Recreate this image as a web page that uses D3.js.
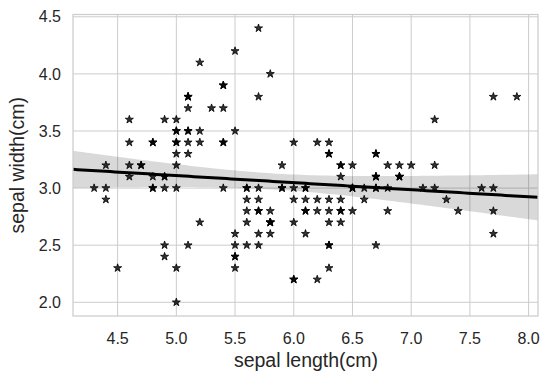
<!DOCTYPE html>
<html><head><meta charset="utf-8">
<script src="https://cdn.jsdelivr.net/npm/d3@7"></script>
<style>body{margin:0;background:#fff}svg{display:block}text{font-family:"Liberation Sans",Arial,sans-serif;fill:#262626}</style>
</head><body>
<svg id="c" width="551" height="382"></svg>
<script>
const sepalLength = [5.1,4.9,4.7,4.6,5.0,5.4,4.6,5.0,4.4,4.9,5.4,4.8,4.8,4.3,5.8,5.7,5.4,5.1,5.7,5.1,5.4,5.1,4.6,5.1,4.8,5.0,5.0,5.2,5.2,4.7,4.8,5.4,5.2,5.5,4.9,5.0,5.5,4.9,4.4,5.1,5.0,4.5,4.4,5.0,5.1,4.8,5.1,4.6,5.3,5.0,
7.0,6.4,6.9,5.5,6.5,5.7,6.3,4.9,6.6,5.2,5.0,5.9,6.0,6.1,5.6,6.7,5.6,5.8,6.2,5.6,5.9,6.1,6.3,6.1,6.4,6.6,6.8,6.7,6.0,5.7,5.5,5.5,5.8,6.0,5.4,6.0,6.7,6.3,5.6,5.5,5.5,6.1,5.8,5.0,5.6,5.7,5.7,6.2,5.1,5.7,
6.3,5.8,7.1,6.3,6.5,7.6,4.9,7.3,6.7,7.2,6.5,6.4,6.8,5.7,5.8,6.4,6.5,7.7,7.7,6.0,6.9,5.6,7.7,6.3,6.7,7.2,6.2,6.1,6.4,7.2,7.4,7.9,6.4,6.3,6.1,7.7,6.3,6.4,6.0,6.9,6.7,6.9,5.8,6.8,6.7,6.7,6.3,6.5,6.2,5.9];
const sepalWidth = [3.5,3.0,3.2,3.1,3.6,3.9,3.4,3.4,2.9,3.1,3.7,3.4,3.0,3.0,4.0,4.4,3.9,3.5,3.8,3.8,3.4,3.7,3.6,3.3,3.4,3.0,3.4,3.5,3.4,3.2,3.1,3.4,4.1,4.2,3.1,3.2,3.5,3.6,3.0,3.4,3.5,2.3,3.2,3.5,3.8,3.0,3.8,3.2,3.7,3.3,
3.2,3.2,3.1,2.3,2.8,2.8,3.3,2.4,2.9,2.7,2.0,3.0,2.2,2.9,2.9,3.1,3.0,2.7,2.2,2.5,3.2,2.8,2.5,2.8,2.9,3.0,2.8,3.0,2.9,2.6,2.4,2.4,2.7,2.7,3.0,3.4,3.1,2.3,3.0,2.5,2.6,3.0,2.6,2.3,2.7,3.0,2.9,2.9,2.5,2.8,
3.3,2.7,3.0,2.9,3.0,3.0,2.5,2.9,2.5,3.6,3.2,2.7,3.0,2.5,2.8,3.2,3.0,3.8,2.6,2.2,3.2,2.8,2.8,2.7,3.3,3.2,2.8,3.0,2.8,3.0,2.8,3.8,2.8,2.8,2.6,3.0,3.4,3.1,3.0,3.1,3.1,3.1,2.7,3.2,3.3,3.0,2.5,3.0,3.4,3.0];
const xTicks = [4.5,5.0,5.5,6.0,6.5,7.0,7.5,8.0];
const yTicks = [2.0,2.5,3.0,3.5,4.0,4.5];
const xLabel = "sepal length(cm)";
const yLabel = "sepal width(cm)";

const svg = d3.select("#c");
const L = 73, R = 538, T = 14.5, B = 316;
const xs = d3.scaleLinear().domain([4.12, 8.08]).range([L, R]);
const ys = d3.scaleLinear().domain([1.88, 4.52]).range([B, T]);

// grid
svg.append("g").selectAll("line").data(xTicks).join("line")
  .attr("x1", d => xs(d)).attr("x2", d => xs(d)).attr("y1", T).attr("y2", B)
  .attr("stroke", "#cccccc").attr("stroke-width", 1);
svg.append("g").selectAll("line").data(yTicks).join("line")
  .attr("x1", L).attr("x2", R).attr("y1", d => ys(d)).attr("y2", d => ys(d))
  .attr("stroke", "#cccccc").attr("stroke-width", 1);

// regression (ordinary least squares, 95% CI)
const n = sepalLength.length;
const mx = d3.mean(sepalLength), my = d3.mean(sepalWidth);
let sxx = 0, sxy = 0;
for (let i = 0; i < n; i++) { sxx += (sepalLength[i]-mx)**2; sxy += (sepalLength[i]-mx)*(sepalWidth[i]-my); }
const b = sxy / sxx, a = my - b * mx;
let sse = 0;
for (let i = 0; i < n; i++) sse += (sepalWidth[i] - (a + b*sepalLength[i]))**2;
const s = Math.sqrt(sse / (n - 2));
const tval = 1.976;
const grid = d3.range(0, 101).map(i => 4.12 + (8.08 - 4.12) * i / 100);
const band = grid.map(x => {
  const yh = a + b*x;
  const se = s * Math.sqrt(1/n + (x-mx)**2/sxx);
  return {x, lo: yh - tval*se, hi: yh + tval*se, y: yh};
});
svg.append("path").datum(band)
  .attr("d", d3.area().x(d => xs(d.x)).y0(d => ys(d.lo)).y1(d => ys(d.hi)))
  .attr("fill", "#000").attr("fill-opacity", 0.15);

// points
const star = d3.symbol().type(d3.symbolStar).size(20);
svg.append("g").selectAll("path").data(sepalLength.map((x,i)=>[x, sepalWidth[i]])).join("path")
  .attr("d", star)
  .attr("transform", d => `translate(${xs(d[0])},${ys(d[1])})`)
  .attr("fill", "#000").attr("fill-opacity", 0.8)
  .attr("stroke", "#000").attr("stroke-opacity", 0.8).attr("stroke-width", 1)
  .attr("stroke-linejoin", "miter");

svg.append("path").datum(band)
  .attr("d", d3.line().x(d => xs(d.x)).y(d => ys(d.y)))
  .attr("fill", "none").attr("stroke", "#000").attr("stroke-width", 3);

// spines
svg.append("rect").attr("x", L).attr("y", T).attr("width", R-L).attr("height", B-T)
  .attr("fill", "none").attr("stroke", "#cccccc").attr("stroke-width", 1.25);

// tick labels
svg.append("g").selectAll("text").data(xTicks).join("text")
  .attr("x", d => xs(d)).attr("y", 343.5).attr("text-anchor", "middle")
  .attr("font-size", 16).text(d => d.toFixed(1));
svg.append("g").selectAll("text").data(yTicks).join("text")
  .attr("x", 61).attr("y", d => ys(d) + 5.7).attr("text-anchor", "end")
  .attr("font-size", 16).text(d => d.toFixed(1));

svg.append("text").attr("x", (L+R)/2 + 0.5).attr("y", 367).attr("text-anchor", "middle")
  .attr("font-size", 19.5).text(xLabel);
svg.append("text").attr("transform", `translate(24,${(T+B)/2}) rotate(-90)`)
  .attr("text-anchor", "middle").attr("font-size", 19.5).text(yLabel);
</script>
</body></html>
